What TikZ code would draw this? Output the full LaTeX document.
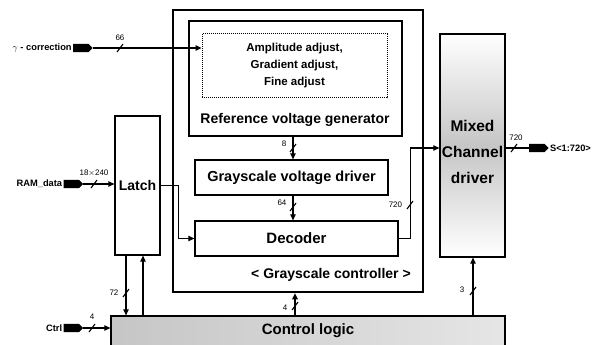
\documentclass[tikz,border=0pt]{standalone}
\usepackage{fontspec}
\setmainfont{Liberation Sans}
\usepackage{xcolor}
\usepackage{tikz}
\usetikzlibrary{arrows.meta,shapes.symbols,calc}

\newcommand{\busmark}[1]{\draw[line width=1.1pt] ($(#1)+(-3,4)$) -- ($(#1)+(3,-4)$)}

\begin{document}
\begin{tikzpicture}[x=1pt,y=-1pt,>={Triangle[length=6pt,width=5.5pt]},
    every path/.style={line width=1.1pt},
    blk/.style={draw, line width=1.3pt, rectangle, font=\bfseries},
    sig/.style={shape=signal, signal to=east, fill=black, draw=black, minimum width=18pt, minimum height=7pt, inner sep=0pt},
    num/.style={font=\fontsize{8}{9}\selectfont}]
    \useasboundingbox (0,0) rectangle (598,345);

    % Grayscale controller
    \node[draw, line width=2.6pt, rectangle, minimum width=250pt, minimum height=282pt] (gctrl) at (298,151) {};
    \node[font=\bfseries\fontsize{14}{16}\selectfont] (gctrllbl) at (331,275) {< Grayscale controller >};

    % Reference voltage generator
    \node[blk, minimum width=213pt, minimum height=115pt] (ref) at (295.5,78.5) {};
    \node[draw, line width=1pt, densely dotted, minimum width=185pt, minimum height=64pt, align=center,
          font=\bfseries\fontsize{11.5}{17}\selectfont] (adj) at (294.5,66) {Amplitude adjust,\\Gradient adjust,\\Fine adjust};
    \node[font=\bfseries\fontsize{14}{16}\selectfont] (reflbl) at (295,120) {Reference voltage generator};

    % Grayscale voltage driver
    \node[blk, minimum width=193pt, minimum height=35pt, font=\bfseries\fontsize{14.5}{16}\selectfont] (gsvd) at (291.5,177.5) {Grayscale voltage driver};

    % Decoder
    \node[blk, minimum width=203pt, minimum height=35pt, font=\bfseries\fontsize{15}{17}\selectfont] (dec) at (296.5,238.5) {Decoder};

    % Latch
    \node[blk, minimum width=45pt, minimum height=139pt, font=\bfseries\fontsize{14}{16}\selectfont] (latch) at (137.5,185.5) {Latch};

    % Mixed Channel driver
    \node[blk, minimum width=65pt, minimum height=223pt, top color=white, bottom color=white, middle color=gray!45] (mix) at (472.5,145.5) {};
    \node[align=center, font=\bfseries\fontsize{15.5}{26}\selectfont] (mixlbl) at (472.5,152) {Mixed\\Channel\\driver};

    % Control logic
    \node[blk, minimum width=394pt, minimum height=30pt, left color=gray!45, right color=gray!20, font=\bfseries\fontsize{15}{17}\selectfont] (ctl) at (308,331) {Control logic};

    % Inputs and output
    \node[sig] (gsig) at (81,48) {};
    \node[anchor=east, font=\bfseries\fontsize{9.3}{11}\selectfont, inner sep=1pt] (gin) at (gsig.west) {$\gamma$ - correction};
    \node[sig] (rsig) at (71.5,184) {};
    \node[anchor=east, font=\bfseries\fontsize{9.3}{11}\selectfont, inner sep=1pt] (rin) at (rsig.west) {RAM\_data};
    \node[sig] (csig) at (71.5,328) {};
    \node[anchor=east, font=\bfseries\fontsize{9.3}{11}\selectfont, inner sep=1pt] (cin) at (csig.west) {Ctrl};
    \node[sig] (osig) at (537,148) {};
    \node[anchor=west, font=\bfseries\fontsize{9.3}{11}\selectfont, inner sep=1pt] (out) at (osig.east) {S<1:720>};

    % Arrows
    \draw[->] (gsig.east) -- (gsig.east -| adj.west);
    \busmark{120,48}; \node[num] at (120,38) {66};
    \draw[->] (rsig.east) -- (rsig.east -| latch.west);
    \busmark{94,184}; \node[num] at (94,173) {18$\times$240};
    \draw[->] (csig.east) -- (csig.east -| ctl.west);
    \busmark{92,328}; \node[num] at (92,317) {4};
    \draw ([yshift=-2.5pt]mix.east) -- (osig.west);
    \busmark{514,148}; \node[num] at (516,138) {720};

    \draw[->] (latch.east) -- ++(18,0) |- (dec.west);
    \draw[->] (dec.east) -- ++(12,0) |- ([yshift=-2.5pt]mix.west);
    \busmark{410,205}; \node[num, anchor=east] at (406,205) {720};

    \draw[->] (293,0 |- ref.south) -- (293,0 |- gsvd.north);
    \busmark{293,148}; \node[num] at (284,144) {8};
    \draw[->] (293,0 |- gsvd.south) -- (293,0 |- dec.north);
    \busmark{293,207}; \node[num] at (282,203) {64};
    \draw[->] (295,0 |- ctl.north) -- (295,0 |- gctrl.south);
    \busmark{295,306}; \node[num] at (285,308) {4};
    \draw[->] (473,0 |- ctl.north) -- (473,0 |- mix.south);
    \busmark{473,291}; \node[num] at (462,290) {3};

    \draw[->] (126,0 |- latch.south) -- (126,0 |- ctl.north);
    \busmark{126,293}; \node[num] at (114,293) {72};
    \draw[->] (143,0 |- ctl.north) -- (143,0 |- latch.south);
\end{tikzpicture}
\end{document}
